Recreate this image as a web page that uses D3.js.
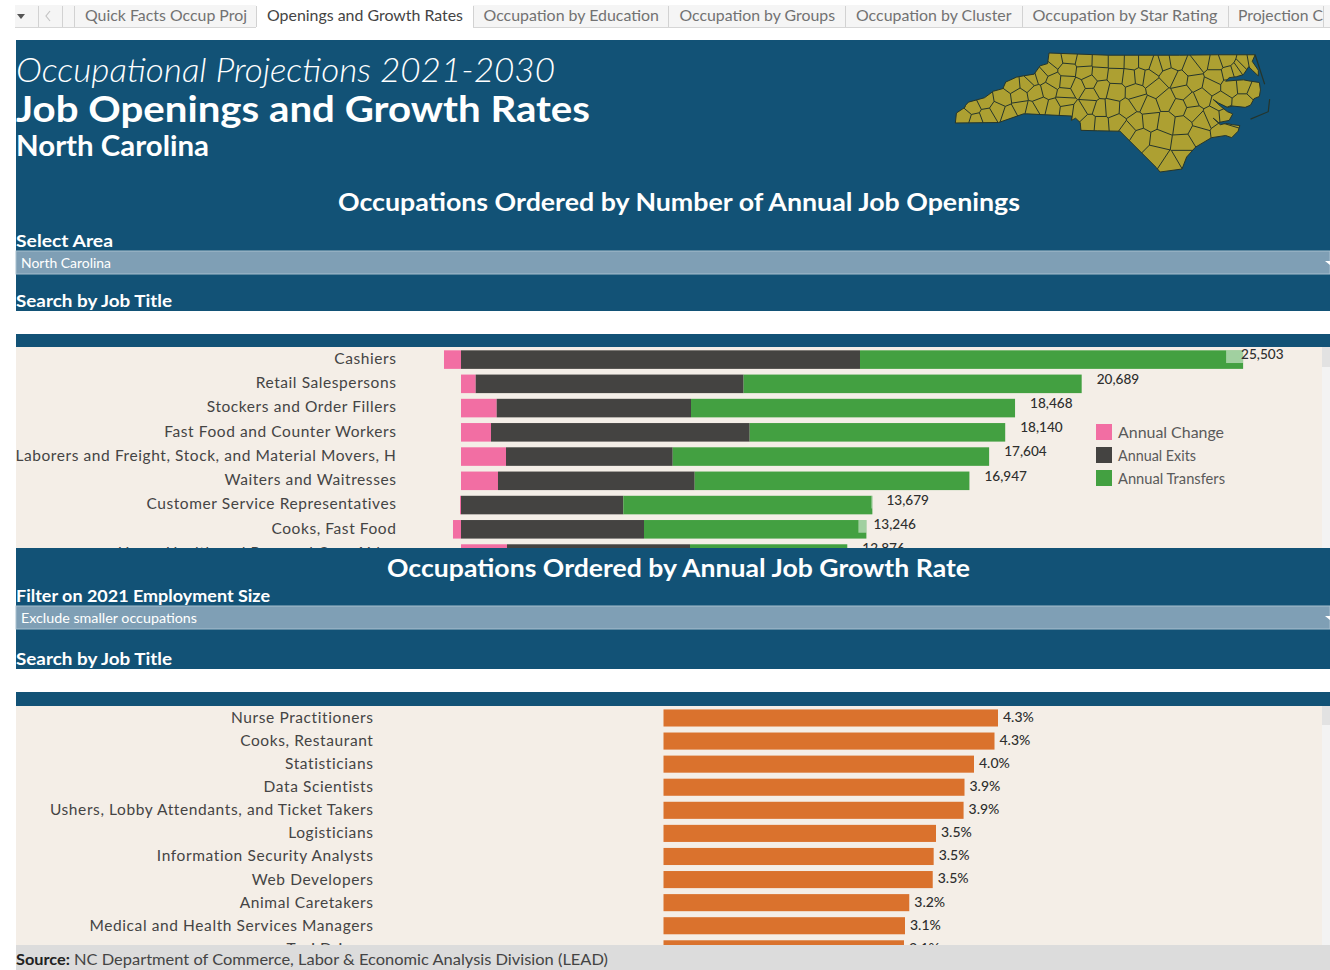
<!DOCTYPE html>
<html>
<head>
<meta charset="utf-8">
<script src="https://d3js.org/d3.v7.min.js"></script>
<style>
html,body{margin:0;padding:0;background:#fff;overflow:hidden}
text{font-family:Lato,"Open Sans",sans-serif}
</style>
</head>
<body>
<script>
// job openings chart
var openingJobs = ["Cashiers","Retail Salespersons","Stockers and Order Fillers","Fast Food and Counter Workers","Laborers and Freight, Stock, and Material Movers, Hand","Waiters and Waitresses","Customer Service Representatives","Cooks, Fast Food","Home Health and Personal Care Aides"];
var annualChange = [-567,490,1190,1000,1500,1233,-33,-267,1533];
var annualExits = [13300,8930,6477,8623,5557,6557,5410,6100,6100];
var annualTransfers = [12770,11269,10801,8517,10547,9157,8302,7413,5243];
var openingKeys = ["Annual Change","Annual Exits","Annual Transfers"];

// growth rate chart
var growthJobs = ["Nurse Practitioners","Cooks, Restaurant","Statisticians","Data Scientists","Ushers, Lobby Attendants, and Ticket Takers","Logisticians","Information Security Analysts","Web Developers","Animal Caretakers","Medical and Health Services Managers","Taxi Drivers"];
var growthRates = [4.305,4.26,3.996,3.874,3.862,3.507,3.477,3.465,3.163,3.108,3.095];

var tabNames = ["Quick Facts Occup Proj","Openings and Growth Rates","Occupation by Education","Occupation by Groups","Occupation by Cluster","Occupation by Star Rating","Projection C"];

// rough NC border, lon/lat
var ncBorder = [[-81.68,36.59],[-80.0,36.54],[-78.0,36.54],[-76.92,36.55],[-75.87,36.55],[-75.95,36.4],[-75.78,36.2],[-75.78,36.07],[-75.95,36.2],[-76.05,36.28],[-76.2,36.1],[-76.4,36.05],[-76.6,36.03],[-76.7,35.95],[-76.4,35.97],[-76.2,35.98],[-76.0,35.95],[-75.75,35.92],[-75.72,35.75],[-75.75,35.6],[-75.9,35.55],[-76.0,35.4],[-76.15,35.35],[-76.5,35.38],[-76.65,35.35],[-76.9,35.45],[-77.05,35.53],[-76.85,35.38],[-76.65,35.25],[-76.5,35.2],[-76.6,35.05],[-76.9,35.0],[-77.05,35.1],[-76.85,34.95],[-76.7,34.98],[-76.5,34.95],[-76.3,34.93],[-76.35,34.8],[-76.53,34.65],[-76.7,34.7],[-77.1,34.65],[-77.55,34.43],[-77.8,34.2],[-77.93,33.92],[-78.55,33.85],[-78.65,33.95],[-79.68,34.8],[-80.32,34.81],[-80.78,34.82],[-80.8,35.0],[-80.93,35.1],[-81.05,35.05],[-81.04,35.15],[-82.3,35.2],[-82.4,35.2],[-83.1,35.0],[-84.32,34.99],[-84.29,35.22],[-84.05,35.35],[-84.03,35.4],[-83.95,35.47],[-83.5,35.57],[-83.25,35.72],[-82.98,35.78],[-82.9,35.93],[-82.6,36.04],[-82.41,36.07],[-82.1,36.11],[-81.93,36.3],[-81.72,36.35],[-81.68,36.59]];
var ncBanks = [[[-75.87,36.55],[-75.6,35.88]],[[-75.46,35.54],[-75.5,35.25],[-76.0,35.08]]];
// approximate county centres
var ncCounties = [[-79.40,36.04],[-81.18,35.92],[-81.13,36.49],[-80.25,34.97],[-81.50,36.43],[-81.92,36.07],[-76.85,35.48],[-76.98,36.06],[-78.56,34.59],[-78.23,34.04],[-82.53,35.61],[-81.70,35.75],[-80.55,35.39],[-81.55,35.95],[-76.16,36.34],[-76.8,34.8],[-79.34,36.39],[-81.21,35.66],[-79.25,35.70],[-84.06,35.13],[-76.60,36.13],[-83.75,35.05],[-81.56,35.33],[-78.65,34.27],[-77.08,35.12],[-78.83,35.05],[-75.95,36.37],[-75.85,35.75],[-80.21,35.79],[-80.54,35.93],[-77.93,34.94],[-78.88,36.03],[-77.58,35.92],[-80.26,36.13],[-78.28,36.08],[-81.18,35.29],[-76.70,36.44],[-83.83,35.35],[-78.65,36.30],[-77.68,35.48],[-79.79,36.08],[-77.64,36.25],[-78.87,35.37],[-82.98,35.56],[-82.48,35.34],[-76.98,36.36],[-79.24,35.02],[-76.2,35.45],[-80.87,35.81],[-83.13,35.29],[-78.37,35.52],[-77.36,35.02],[-79.17,35.48],[-77.64,35.24],[-81.22,35.49],[-82.05,35.68],[-83.42,35.15],[-82.71,35.86],[-77.11,35.84],[-80.83,35.25],[-82.16,36.01],[-79.91,35.33],[-79.48,35.31],[-77.99,35.97],[-77.9,34.2],[-77.37,36.42],[-77.46,34.73],[-79.12,36.06],[-76.67,35.15],[-76.26,36.26],[-77.90,34.51],[-76.40,36.18],[-78.97,36.39],[-77.37,35.59],[-82.17,35.28],[-79.81,35.71],[-79.75,35.0],[-79.10,34.64],[-79.78,36.40],[-80.53,35.64],[-81.92,35.40],[-78.37,34.99],[-79.48,34.84],[-80.25,35.31],[-80.24,36.40],[-80.69,36.41],[-83.49,35.49],[-82.80,35.20],[-76.2,35.87],[-80.53,34.99],[-78.41,36.36],[-78.65,35.79],[-78.11,36.40],[-76.57,35.84],[-81.70,36.23],[-78.00,35.36],[-81.16,36.21],[-77.92,35.70],[-80.67,36.16],[-82.30,35.89]];

var width = 1330,
	height = 970,
	blue = "#125276",
	cream = "#f4eee7",
	dropFill = "#7f9fb5",
	dropEdge = "#a8bfce",
	mapLine = "#25352c";

var openingColors = d3.scaleOrdinal().domain(openingKeys).range(["#f26ea3","#444341","#43a041"]);

var svg = d3.select("body").append("svg")
	.attr("width",width)
	.attr("height",height)
	.style("display","block");

function box(x,y,w,h,fill){
	return svg.append("rect").attr("x",x).attr("y",y).attr("width",w).attr("height",h).attr("fill",fill);
}

// text helper, w forces the width
function label(x,y,s,size,color,weight,w,anchor){
	var t = svg.append("text")
		.attr("x",x)
		.attr("y",y)
		.attr("dy",".35em")
		.attr("font-size",size)
		.attr("fill",color)
		.attr("font-weight",weight || 400)
		.attr("text-anchor",anchor || "start")
		.text(s);
	if(w) t.attr("textLength",w).attr("lengthAdjust","spacingAndGlyphs");
	return t;
}

// tab strip
box(15,5,1315,22,"#f5f5f5");
box(15,27,1315,1,"#d6d6d6");
box(256,4,217,24,"#fff");
var tabX = d3.scaleOrdinal().domain(tabNames).range([85,267,483.5,679.5,856,1032.5,1238]);
var tabW = [162,196,175.5,155.5,155.5,185,85];
[38,62,74,256,473,668,845,1022,1228,1323].forEach(function(x){
	box(x,6,1,21,"#d2d2d2");
});
tabNames.forEach(function(d,i){
	label(tabX(d),16,d,15,i == 1 ? "#444" : "#727272",400,tabW[i]).attr("font-family","Roboto");
});
svg.append("path").attr("d","M17 14h8l-4 5z").attr("fill","#555");
svg.append("path").attr("d","M50 11l-4 5 4 5").attr("fill","none").attr("stroke","#c4c4c4").attr("stroke-width",1.2);

// dashboard background
box(16,40,1314,905,blue);

label(16,70.5,"Occupational Projections 2021-2030",33,"#fff",300,539).attr("font-style","italic");
label(16,109,"Job Openings and Growth Rates",37,"#fff",700,574);
label(16,146,"North Carolina",28,"#fff",700,193);
label(679,202,"Occupations Ordered by Number of Annual Job Openings",25,"#fff",700,682,"middle");
label(16,241,"Select Area",17,"#fff",700,97);
label(16,301,"Search by Job Title",17,"#fff",700,156);
label(678.5,568,"Occupations Ordered by Annual Job Growth Rate",25,"#fff",700,583,"middle");
label(16,596,"Filter on 2021 Employment Size",17,"#fff",700,254);
label(16,659,"Search by Job Title",17,"#fff",700,156);

function dropdown(y,s,w){
	box(16,y,1314,23,dropFill).attr("stroke",dropEdge);
	label(21,y+12,s,14,"#fff",400,w);
	svg.append("path").attr("d","M1325 "+(y+10)+"h5v4z").attr("fill","#fff");
}
dropdown(251,"North Carolina",90);
dropdown(606,"Exclude smaller occupations",176);
box(16,311,1314,23,"#fff");
box(16,669,1314,23,"#fff");

// state map
var border = {type:"Polygon",coordinates:[ncBorder]};
var banks = {type:"MultiLineString",coordinates:ncBanks};
var projection = d3.geoMercator().fitExtent([[954,53],[1271,172]],{type:"GeometryCollection",geometries:[border,banks]});
var geoPath = d3.geoPath(projection);
var voronoi = d3.Delaunay.from(ncCounties.map(projection)).voronoi([940,40,1290,180]);

svg.append("clipPath").attr("id","nc-clip").append("path").attr("d",geoPath(border));
svg.append("path").attr("d",geoPath(border)).attr("fill","#ada032");
svg.append("path").attr("d",voronoi.render())
	.attr("clip-path","url(#nc-clip)")
	.attr("fill","none")
	.attr("stroke",mapLine)
	.attr("stroke-width",1);
svg.append("path").attr("d",geoPath(border)).attr("fill","none").attr("stroke",mapLine).attr("stroke-width",1);
svg.append("path").attr("d",geoPath(banks)).attr("fill","none").attr("stroke",mapLine).attr("stroke-width",1.2);

// openings panel
box(16,347,1306,201,cream);
box(1322,347,8,201,"#f3f3f3");
box(1322,347,8,20,"#e2e2e2");

svg.append("clipPath").attr("id","clip-open").append("rect").attr("x",16).attr("y",347).attr("width",1306).attr("height",201);
var openG = svg.append("g").attr("clip-path","url(#clip-open)");

var openRows = d3.range(openingJobs.length).map(function(i){
	return {job:openingJobs[i],"Annual Change":annualChange[i],"Annual Exits":annualExits[i],"Annual Transfers":annualTransfers[i]};
});
var stacked = d3.stack().keys(openingKeys).offset(d3.stackOffsetDiverging)(openRows);

var openX = d3.scaleLinear().domain([0,25503]).range([461,1226.1]);
var openY = d3.scaleBand().domain(openingJobs).range([347.9,347.9+24.15*openingJobs.length]).paddingInner(.235).paddingOuter(.1);

openG.selectAll(".series").data(stacked).enter().append("g")
	.attr("fill",function(d){ return openingColors(d.key) })
	.selectAll("rect").data(function(d){ return d }).enter().append("rect")
	.attr("x",function(d){ return openX(Math.min(d[0],d[1])) })
	.attr("y",function(d){ return openY(d.data.job) })
	.attr("width",function(d){ return Math.abs(openX(d[1])-openX(d[0])) })
	.attr("height",openY.bandwidth());

var openTotals = openRows.map(function(d){
	return {job:d.job,total:d["Annual Change"]+d["Annual Exits"]+d["Annual Transfers"],end:d["Annual Exits"]+d["Annual Transfers"]+Math.max(d["Annual Change"],0)};
});

// label box sits over the bar end when the total is shorter than the bar
openG.selectAll(".label-box").data(openTotals.filter(function(d){ return d.end > d.total })).enter().append("rect")
	.attr("x",function(d){ return openX(d.total) })
	.attr("y",function(d){ return openY(d.job) })
	.attr("width",function(d){ return openX(d.end)-openX(d.total) })
	.attr("height",12.7)
	.attr("fill","#fff")
	.attr("fill-opacity",.5);

openG.selectAll(".total").data(openTotals).enter().append("text")
	.attr("x",function(d){ return openX(d.total)+15 })
	.attr("y",function(d){ return openY(d.job)+openY.bandwidth()/2-5 })
	.attr("dy",".35em")
	.attr("font-size",13.6)
	.attr("font-weight",500)
	.attr("fill","#2e2e2e")
	.text(function(d){ return d3.format(",")(d.total) });

var openAxis = openG.append("g")
	.attr("transform","translate(396.5,-.7)")
	.call(d3.axisLeft(openY).tickSize(0).tickPadding(0).tickFormat(function(d){ return d == openingJobs[4] ? "Laborers and Freight, Stock, and Material Movers, H" : d }));
openAxis.select(".domain").remove();
openAxis.selectAll("text").attr("font-size",15.5).attr("font-family","Lato").attr("fill","#444").attr("letter-spacing",".58px");

// legend
var legendW = [106,78,107];
openingKeys.forEach(function(k,i){
	box(1096,424+i*23,16,16,openingColors(k));
	label(1118,433+i*23,k,15,"#5a5a5a",400,legendW[i]);
});

// growth panel
box(16,706,1306,239,cream);
box(1322,706,8,239,"#f3f3f3");
box(1322,706,8,19,"#e2e2e2");

svg.append("clipPath").attr("id","clip-grow").append("rect").attr("x",16).attr("y",706).attr("width",1306).attr("height",239);
var growG = svg.append("g").attr("clip-path","url(#clip-grow)");

var growX = d3.scaleLinear().domain([0,4.305]).range([663.5,998]);
var growY = d3.scaleBand().domain(growthJobs).range([706.9,706.9+23*growthJobs.length]).paddingInner(.26).paddingOuter(.11);

growG.selectAll(".bar").data(growthRates).enter().append("rect")
	.attr("x",growX(0))
	.attr("y",function(d,i){ return growY(growthJobs[i]) })
	.attr("width",function(d){ return growX(d)-growX(0) })
	.attr("height",growY.bandwidth())
	.attr("fill","#da722d");

growG.selectAll(".rate").data(growthRates).enter().append("text")
	.attr("x",function(d){ return growX(d)+5 })
	.attr("y",function(d,i){ return growY(growthJobs[i])+growY.bandwidth()/2-1 })
	.attr("dy",".35em")
	.attr("font-size",14)
	.attr("font-weight",500)
	.attr("fill","#2e2e2e")
	.text(function(d){ return d.toFixed(1)+"%" });

var growAxis = growG.append("g")
	.attr("transform","translate(373.5,0)")
	.call(d3.axisLeft(growY).tickSize(0).tickPadding(0));
growAxis.select(".domain").remove();
growAxis.selectAll("text").attr("font-size",15.5).attr("font-family","Lato").attr("fill","#444").attr("letter-spacing",".6px");

// footer
box(16,945,1314,25,"#dcdcdc");
label(16,959.5,"Source:",15,"#222",700,54);
label(74,959.5,"NC Department of Commerce, Labor & Economic Analysis Division (LEAD)",15,"#444",400,534);
</script>
</body>
</html>
